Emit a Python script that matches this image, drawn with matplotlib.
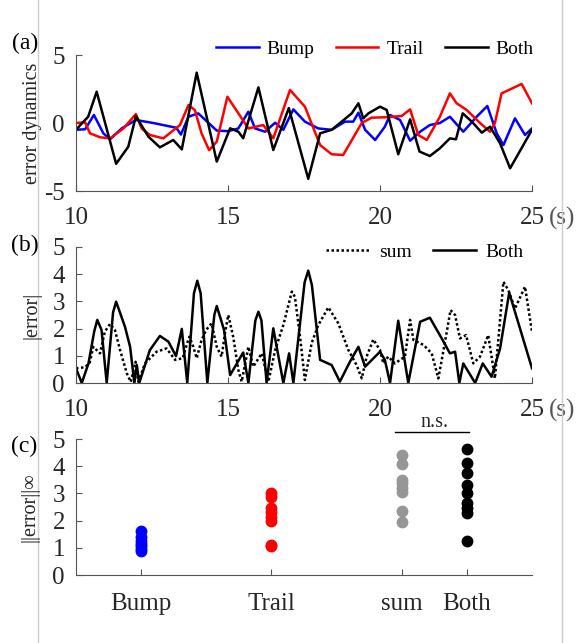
import numpy as np
import matplotlib.pyplot as plt
from matplotlib.lines import Line2D
from matplotlib.transforms import offset_copy

plt.rcParams['font.family'] = ['Liberation Serif', 'DejaVu Serif']
plt.rcParams['axes.unicode_minus'] = False

# (a) error dynamics
t_bump = [10.0, 10.3, 10.59, 10.9, 11.12, 11.5, 11.97, 12.54, 13.3, 13.45, 13.7, 14.02, 14.63,
          15.0, 15.34, 15.67, 15.89, 16.22, 16.55, 16.82, 17.15, 17.53, 17.97, 18.41, 18.85,
          19.12, 19.29, 19.51, 19.84, 20.16, 20.33, 20.66, 20.99, 21.32, 21.64, 21.97, 22.3,
          22.74, 23.18, 23.53, 23.84, 24.06, 24.44, 24.77, 25.0]
e_bump = [-0.5, -0.46, 0.59, -0.76, -1.2, -0.4, 0.22, 0.0, -0.35, -0.85, 0.46, 0.71, -0.56,
          -0.6, -0.4, 0.83, -0.4, -0.64, 0.02, -0.5, 1.0, 0.1, -0.4, -0.5, 0.1,
          0.1, 0.76, -0.5, -1.25, -0.27, 0.59, 0.22, -1.3, -0.64, -0.15, 0.0, 0.46,
          -0.64, 0.46, 1.25, -0.76, -1.62, 0.34, -0.88, -0.4]

t_trail = [10.0, 10.3, 10.46, 10.79, 11.12, 11.56, 11.97, 12.16, 12.43, 12.87, 13.42, 13.7,
           13.91, 14.13, 14.38, 14.63, 14.98, 15.67, 16.16, 16.49, 17.04, 17.53, 18.03, 18.41,
           18.79, 19.4, 19.72, 20.16, 20.71, 20.99, 21.26, 21.54, 21.97, 22.3, 22.52, 22.85,
           23.29, 23.62, 23.78, 24.0, 24.66, 25.0]
e_trail = [0.0, 0.05, -0.76, -1.05, -1.13, -0.4, 0.66, -0.4, -0.88, -1.13, -0.15, 1.32,
           0.95, -0.76, -2.0, -1.37, 1.93, -0.4, -0.15, -1.13, 2.43, 1.2, -1.62, -2.3,
           -2.35, 0.0, 0.39, 0.42, 0.51, 1.0, -0.88, -1.25, 0.46, 2.18, 1.45, 0.96,
           0.0, -0.64, 0.0, 2.18, 2.87, 1.45]

t_both = [10.0, 10.4, 10.68, 11.32, 11.72, 11.97, 12.38, 12.76, 13.2, 13.48, 13.97, 14.63,
          15.07, 15.34, 15.5, 16.0, 16.49, 17.0, 17.64, 18.03, 18.41, 18.74, 19.07, 19.29,
          19.45, 19.62, 20.0, 20.22, 20.6, 20.99, 21.3, 21.64, 21.97, 22.3, 22.5, 22.72,
          23.02, 23.35, 23.62, 23.95, 24.28, 25.0]
e_both = [-0.5, 0.46, 2.3, -3.0, -1.74, 0.5, -1.0, -1.79, -1.25, -1.94, 3.7, -2.84,
          -0.39, -0.64, -1.12, 2.62, -1.99, 1.1, -4.1, -0.76, -0.5, 0.1, 0.71, 1.45,
          0.34, 0.71, 1.2, 0.96, -2.3, 0.27, -2.1, -2.43, -1.86, -1.13, -1.2, 0.71,
          0.1, -0.71, -0.27, -1.5, -3.33, -0.5]

# (b) |error|
t_sum = [10.0, 10.3, 10.45, 10.57, 10.79, 10.95, 11.12, 11.28, 11.45, 11.67, 11.8, 11.96,
         12.05, 12.27, 12.65, 12.98, 13.26, 13.51, 13.62, 13.73, 13.86, 13.97, 14.13, 14.28,
         14.46, 14.63, 14.79, 14.9, 15.01, 15.17, 15.34, 15.45, 15.67, 15.83, 16.11, 16.33,
         16.55, 16.82, 17.1, 17.2, 17.37, 17.53, 17.75, 17.97, 18.3, 18.63, 18.96, 19.23,
         19.4, 19.56, 19.78, 20.0, 20.11, 20.27, 20.49, 20.82, 20.99, 21.1, 21.43, 21.7,
         21.92, 22.14, 22.32, 22.47, 22.63, 22.83, 23.07, 23.29, 23.56, 23.78, 24.06, 24.22,
         24.44, 24.77, 25.0]
abs_sum = [0.54, 0.58, 0.75, 1.33, 1.09, 1.89, 2.17, 1.95, 1.21, 0.36, 0.04, 0.78,
           0.05, 0.72, 1.15, 1.27, 0.85, 0.91, 1.33, 1.7, 1.33, 0.91, 1.58, 1.95,
           2.19, 1.33, 0.97, 1.83, 2.5, 1.7, 0.48, 0.05, 1.33, 0.6, 1.09, 0.05,
           1.21, 2.13, 3.36, 3.17, 1.7, 0.11, 1.46, 2.13, 2.78, 2.19, 1.21, 0.66,
           0.17, 0.97, 1.6, 1.21, 0.72, 0.97, 0.72, 0.97, 2.32, 1.58, 1.4, 1.09,
           0.17, 1.52, 2.68, 2.5, 1.64, 1.76, 0.72, 0.97, 1.76, 0.17, 3.72, 3.42,
           2.74, 3.54, 1.89]

t_absboth = [10.0, 10.19, 10.41, 10.6, 10.7, 10.84, 11.01, 11.22, 11.32, 11.61, 11.78, 11.92,
             12.0, 12.08, 12.43, 12.76, 13.04, 13.29, 13.48, 13.66, 13.88, 13.99, 14.1, 14.32,
             14.55, 14.63, 14.87, 15.07, 15.5, 15.67, 15.9, 16.0, 16.1, 16.27, 16.49, 16.82,
             17.01, 17.15, 17.52, 17.64, 17.76, 18.03, 18.41, 18.68, 19.01, 19.29, 19.51, 20.0,
             20.16, 20.33, 20.6, 20.93, 21.32, 21.64, 22.03, 22.3, 22.47, 22.61, 22.74, 23.13,
             23.38, 23.67, 23.95, 24.25, 25.0]
abs_both = [0.54, 0.0, 0.72, 1.9, 2.32, 1.95, 0.0, 2.6, 2.99, 2.07, 1.33, 0.0,
            0.66, 0.0, 1.21, 1.73, 1.52, 0.99, 1.99, 0.0, 3.3, 3.76, 3.3, 0.0,
            2.5, 2.83, 1.95, 0.29, 1.12, 0.0, 2.3, 2.62, 2.3, 0.0, 2.01, 0.0,
            1.09, 0.0, 3.7, 4.13, 3.6, 0.85, 0.66, 0.05, 0.78, 1.33, 0.6, 1.15,
            0.85, 0.0, 2.29, 0.0, 2.25, 2.4, 1.64, 1.09, 1.15, 0.0, 0.72, 0.0,
            0.72, 0.23, 1.27, 3.32, 0.54]

# (c) ||error||_inf per trial
cat_labels = ['Bump', 'Trail', 'sum', 'Both']
cat_pos = [1, 2, 3, 3.5]
inf_bump = [1.6, 1.4, 1.25, 1.15, 1.05, 0.95, 0.87]
inf_trail = [3.0, 2.85, 2.45, 2.3, 2.15, 2.0, 1.1, 1.05]
inf_sum = [4.42, 4.08, 3.5, 3.4, 3.2, 3.05, 2.35, 1.95]
inf_both = [4.63, 4.1, 3.76, 3.3, 3.0, 2.63, 2.45, 2.27, 1.25]

W, H = 581, 643
fig = plt.figure(figsize=(W / 100, H / 100), dpi=100)

def box(top, bottom, left=76, right=532):
    return [left / W, 1 - bottom / H, (right - left) / W, (bottom - top) / H]

ax1 = fig.add_axes(box(55, 191))
ax2 = fig.add_axes(box(247, 383))
ax3 = fig.add_axes(box(439, 575))

spc = '#555555'
txc = '#262626'

def style(ax, xpad=11.5):
    ax.spines['top'].set_visible(False)
    ax.spines['right'].set_visible(False)
    for s in ['left', 'bottom']:
        ax.spines[s].set_color(spc)
        ax.spines[s].set_linewidth(0.8)
    ax.tick_params(direction='in', length=4, width=0.8, color=spc,
                   labelsize=18, labelcolor=txc)
    ax.tick_params(axis='x', pad=xpad)
    ax.tick_params(axis='y', pad=8)

def seconds(ax):
    tr = offset_copy(ax.transAxes, fig=fig, x=0, y=-11.5, units='points')
    ax.text(1.037, 0, '(s)', transform=tr, ha='left', va='top',
            fontsize=18, color='#555555')

lw = 1.8

# panel a
ax1.plot(t_bump, e_bump, color='#0000ff', lw=lw, label='Bump')
ax1.plot(t_trail, e_trail, color='#ff0000', lw=lw, label='Trail')
ax1.plot(t_both, e_both, color='black', lw=lw, label='Both')
ax1.set_xlim(10, 25)
ax1.set_ylim(-5, 5)
ax1.set_xticks([10, 15, 20, 25])
ax1.set_yticks([-5, 0, 5])
style(ax1)
seconds(ax1)
ax1.legend(loc='center', bbox_to_anchor=(0.655, 1.044), ncol=3, frameon=False,
           fontsize=14, handlelength=2.2, handletextpad=0.4, columnspacing=1.1)

# panel b
ax2.plot(t_sum, abs_sum, color='black', lw=lw, ls=(0, (1, 1)), label='sum')
ax2.plot(t_absboth, abs_both, color='black', lw=lw, label='Both')
ax2.set_xlim(10, 25)
ax2.set_ylim(0, 5)
ax2.set_xticks([10, 15, 20, 25])
ax2.set_yticks([0, 1, 2, 3, 4, 5])
style(ax2)
seconds(ax2)
ax2.legend(loc='center', bbox_to_anchor=(0.765, 0.963), ncol=2, frameon=False,
           fontsize=14, handlelength=2.2, handletextpad=0.5, columnspacing=1.1)

# panel c
groups = [inf_bump, inf_trail, inf_sum, inf_both]
colors = ['#0000ff', '#ff0000', '#969696', 'black']
for pos, vals, c in zip(cat_pos, groups, colors):
    ax3.plot(np.full(len(vals), pos), vals, 'o', ms=7.5, color=c, mec=c)
ax3.set_xlim(0.5, 4)
ax3.set_ylim(0, 5)
ax3.set_xticks(cat_pos)
ax3.set_xticklabels(cat_labels)
ax3.set_yticks([0, 1, 2, 3, 4, 5])
style(ax3, xpad=13)
ax3.plot([cat_pos[2] - 0.05, cat_pos[3] + 0.02], [5.25, 5.25], color='black',
         lw=1, clip_on=False)
ax3.text((cat_pos[2] + cat_pos[3]) / 2, 5.6, 'n.s.', ha='center', va='center',
         fontsize=14.5, color=txc, clip_on=False)

# y labels and panel letters
fig.text(32 / W, 1 - 123 / H, 'error dynamics', rotation=90, ha='center', va='center',
         fontsize=14.5, color=txc)
fig.text(32 / W, 1 - 315 / H, '|error|', rotation=90, ha='center', va='center',
         fontsize=14.5, color=txc)
fig.text(30 / W, 1 - 507 / H, '||error||∞', rotation=90, ha='center', va='center',
         fontsize=14.5, color=txc)
for lab, (x, y) in zip(['(a)', '(b)', '(c)'], [(25, 43), (25, 245), (24, 446)]):
    fig.text(x / W, 1 - y / H, lab, ha='center', va='center', fontsize=17, color='black')

# light frame lines at the sides
for xp in [38, 562]:
    fig.add_artist(Line2D([xp / W, xp / W], [0, 1], transform=fig.transFigure,
                          color='#cccccc', lw=1))

fig.savefig('out.png', dpi=100)
